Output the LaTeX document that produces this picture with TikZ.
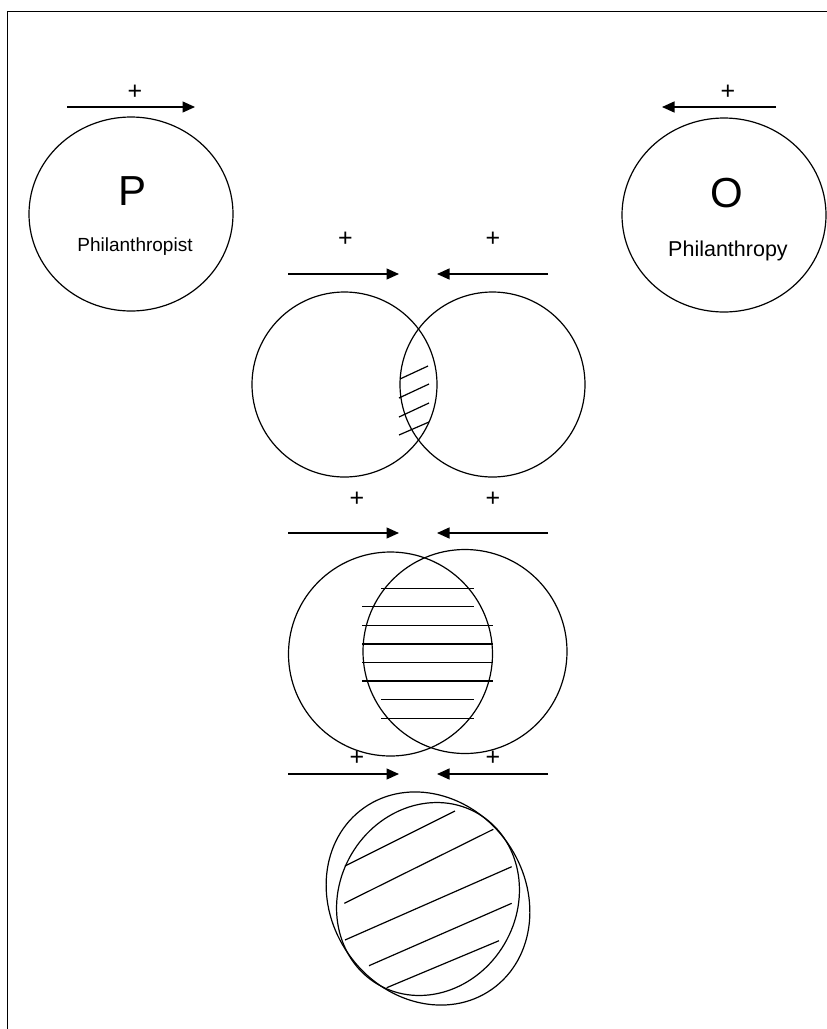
\documentclass[tikz,border=0pt]{standalone}
\usepackage{fontspec}
\setmainfont{Liberation Sans}
\usetikzlibrary{arrows.meta,shapes.geometric}
\begin{document}
\begin{tikzpicture}[x=1pt,y=-1pt,
  ring/.style={draw, line width=1.2pt, ellipse, inner sep=0pt},
  push/.style={line width=1.3pt, -{Triangle[length=12.5pt,width=11pt]}},
  hatch/.style={line width=1.2pt},
  plus/.style={font=\fontsize{25}{25}\selectfont, inner sep=0pt},
  big/.style={font=\fontsize{42}{42}\selectfont, inner sep=0pt, anchor=base},
  lbl/.style={inner sep=0pt, anchor=base}]
\useasboundingbox (0,0) rectangle (827,1029);
\draw[line width=1pt] (7,1029) -- (7,11) -- (827,11);

% top left: P
\node[ring, minimum width=204pt, minimum height=194pt] (P) at (131,214) {};
\node[big] (Pl) at (133,205) {P};
\node[lbl, font=\fontsize{19}{19}\selectfont] (Pn) at (135,251.5) {Philanthropist};
\coordinate (pa1) at (67,107); \coordinate (pa2) at (195,107);
\draw[push] (pa1) -- (pa2);
\node[plus] (pp) at (135,92) {+};

% top right: O
\node[ring, minimum width=204pt, minimum height=194pt] (O) at (724,215) {};
\node[big] (Ol) at (727,207.5) {O};
\node[lbl, font=\fontsize{21.5}{21.5}\selectfont] (On) at (728,256.5) {Philanthropy};
\coordinate (oa1) at (776,107); \coordinate (oa2) at (662,107);
\draw[push] (oa1) -- (oa2);
\node[plus] (op) at (728,92) {+};

% row 1
\node[plus] (p1l) at (345.5,239) {+};
\node[plus] (p1r) at (493,239) {+};
\coordinate (a1l) at (288,274); \coordinate (b1l) at (399,274);
\coordinate (a1r) at (548,274); \coordinate (b1r) at (437,274);
\draw[push] (a1l) -- (b1l);
\draw[push] (a1r) -- (b1r);
\node[ring, minimum width=185pt, minimum height=185pt] (V1L) at (344.5,384.5) {};
\node[ring, minimum width=185pt, minimum height=185pt] (V1R) at (492.5,384.5) {};
\draw[hatch] (400,379) -- (428,366);
\draw[hatch] (399,398) -- (429,384);
\draw[hatch] (399,417) -- (429,403);
\draw[hatch] (399,435) -- (429,422);

% row 2
\node[plus] (p2l) at (357,499) {+};
\node[plus] (p2r) at (493,499) {+};
\coordinate (a2l) at (288,533); \coordinate (b2l) at (399,533);
\coordinate (a2r) at (548,533); \coordinate (b2r) at (437,533);
\draw[push] (a2l) -- (b2l);
\draw[push] (a2r) -- (b2r);
\node[ring, minimum width=204pt, minimum height=204pt] (V2L) at (390.5,654) {};
\node[ring, minimum width=204pt, minimum height=204pt] (V2R) at (465,651.5) {};
\foreach \y/\a/\b in {588.3/381/474, 606.7/362/474, 625.7/362/493, 644/362/493,
                      662.3/362/493, 681/362/493, 699.3/381/474, 718.3/381/474}
  \draw[hatch] (\a,\y) -- (\b,\y);

% row 3
\node[plus] (p3l) at (357,758) {+};
\node[plus] (p3r) at (493,758) {+};
\coordinate (a3l) at (288,774); \coordinate (b3l) at (399,774);
\coordinate (a3r) at (548,774); \coordinate (b3r) at (437,774);
\draw[push] (a3l) -- (b3l);
\draw[push] (a3r) -- (b3r);
\node[ring, minimum width=198pt, minimum height=177.4pt, rotate=59.6] (Vin) at (428,899) {};
\node[ring, minimum width=222pt, minimum height=194pt, rotate=-54.8] (Vout) at (428,898.5) {};
\draw[hatch] (345,866) -- (455,811);
\draw[hatch] (344.3,903.3) -- (493.3,829.3);
\draw[hatch] (345,940) -- (511.7,866.7);
\draw[hatch] (369,965.7) -- (511.7,903.3);
\draw[hatch] (386.7,987.7) -- (499,940.7);
\end{tikzpicture}
\end{document}
